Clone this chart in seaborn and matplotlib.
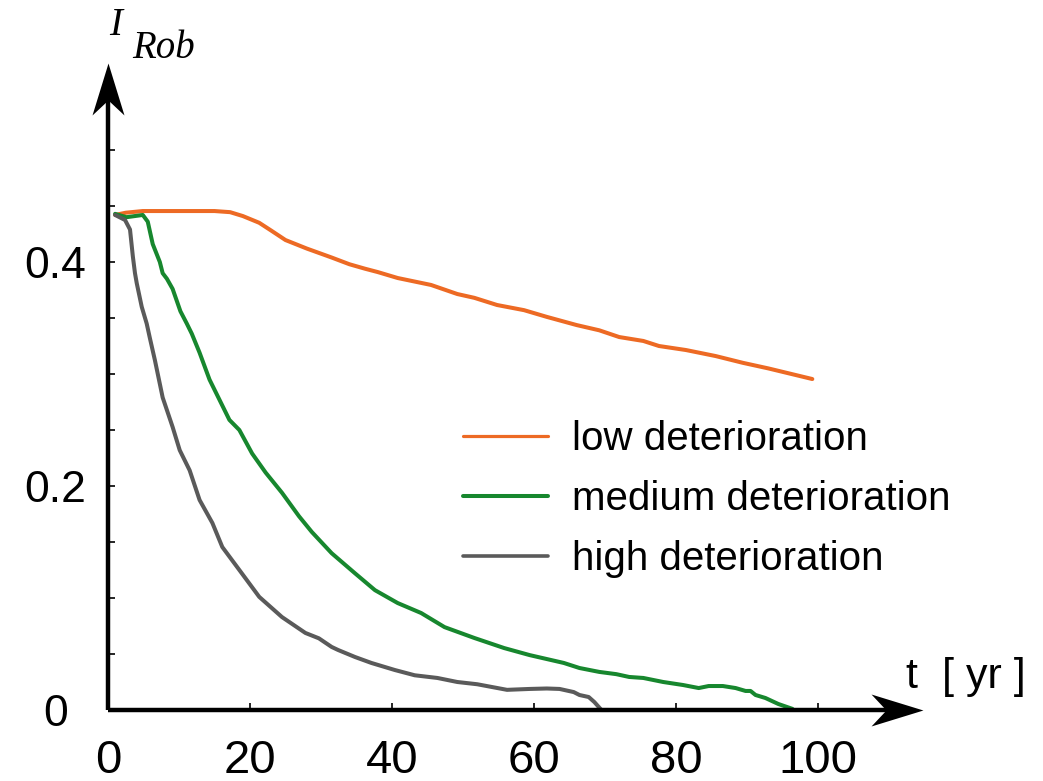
import numpy as np
import pandas as pd
import matplotlib.pyplot as plt
import seaborn as sns
from matplotlib.path import Path
from matplotlib.lines import Line2D

# data
low_t = [1.0, 2.5, 4.9, 10, 15, 17.2, 19, 21.3, 23, 25, 28, 31.5, 34, 36.2, 38, 40.8,
         45.5, 49.2, 51.6, 54.8, 58.6, 61.8, 66, 69.2, 72, 75.4, 77.6, 81.4, 85.6, 89.4, 93, 99.2]
low_i = [0.442, 0.444, 0.4455, 0.4455, 0.4455, 0.4445, 0.441, 0.435, 0.428, 0.4196, 0.412, 0.404,
         0.398, 0.394, 0.391, 0.3857, 0.3795, 0.3714, 0.368, 0.3616, 0.357, 0.351, 0.3437, 0.339,
         0.333, 0.3295, 0.325, 0.3214, 0.316, 0.31, 0.305, 0.2955]

med_t = [1.0, 2.6, 4.9, 5.6, 6.3, 7.3, 7.7, 8.3, 9.1, 10.2, 11.1, 11.8, 12.9, 14.3, 15.7, 17.1,
         18.5, 20.3, 22.2, 24.5, 26.9, 28.7, 31.5, 34.8, 37.6, 40.8, 44.1, 47.4, 51.6, 55.8, 59.4,
         61.8, 64.2, 66.4, 69.2, 71.6, 73.4, 75.4, 78.2, 81.0, 83.2, 84.6, 86.6, 88.4, 89.8, 90.5,
         91.2, 92.6, 94.4, 96.4]
med_i = [0.443, 0.440, 0.442, 0.436, 0.416, 0.400, 0.390, 0.385, 0.376, 0.356, 0.345, 0.336,
         0.319, 0.295, 0.277, 0.259, 0.250, 0.229, 0.212, 0.194, 0.173, 0.159, 0.140, 0.122,
         0.107, 0.0955, 0.0866, 0.074, 0.0643, 0.0553, 0.049, 0.0455, 0.042, 0.0375, 0.034,
         0.032, 0.0295, 0.0286, 0.025, 0.0223, 0.0196, 0.0214, 0.0214, 0.0196, 0.017, 0.017,
         0.0134, 0.0107, 0.0054, 0.001]

high_t = [1.0, 2.4, 3.1, 3.5, 3.8, 4.05, 4.75, 5.45, 5.9, 6.6, 7.7, 9.1, 10.1, 11.5, 12.9, 14.7,
          16.1, 18.5, 21.3, 24.5, 27.8, 29.7, 31.5, 32.4, 34.8, 37.1, 40.4, 43.2, 46.4, 49.2,
          52.0, 56.2, 59.4, 61.8, 63.6, 65.6, 66.4, 67.7, 68.5, 69.5, 70.5]
high_i = [0.442, 0.4375, 0.429, 0.405, 0.390, 0.381, 0.360, 0.345, 0.332, 0.3125, 0.279, 0.2527,
          0.232, 0.214, 0.1875, 0.167, 0.1455, 0.125, 0.101, 0.083, 0.0688, 0.064, 0.0563,
          0.0536, 0.0473, 0.042, 0.0357, 0.031, 0.0286, 0.025, 0.023, 0.018, 0.0188, 0.0192,
          0.0188, 0.016, 0.0134, 0.0116, 0.0071, 0.0, 0.0]

labels = ['low deterioration', 'medium deterioration', 'high deterioration']
colors = ['#ED6A24', '#17872E', '#5A5A5A']
x_ticks = [0, 20, 40, 60, 80, 100]
y_ticks = [0, 0.05, 0.1, 0.15, 0.2, 0.25, 0.3, 0.35, 0.4, 0.45, 0.5]
y_ticklabels = ['0', '', '', '', '0.2', '', '', '', '0.4', '', '']

df = pd.concat([
    pd.DataFrame({'t': low_t, 'I': low_i, 'level': labels[0]}),
    pd.DataFrame({'t': med_t, 'I': med_i, 'level': labels[1]}),
    pd.DataFrame({'t': high_t, 'I': high_i, 'level': labels[2]}),
])

sns.set_style('white')
plt.rcParams['font.family'] = ['Liberation Sans', 'DejaVu Sans']
plt.rcParams['text.color'] = 'black'
plt.rcParams['xtick.color'] = 'black'
plt.rcParams['ytick.color'] = 'black'

W, H = 1043, 781
fig = plt.figure(figsize=(W / 100, H / 100), dpi=100)
ax = fig.add_axes([108 / W, 71 / H, 710 / W, 560 / H])

sns.lineplot(data=df, x='t', y='I', hue='level', palette=colors, sort=False,
             estimator=None, linewidth=2.9, legend=False, ax=ax)
for ln in ax.get_lines():
    ln.set_clip_on(False)

ax.set_xlim(0, 100)
ax.set_ylim(0, 0.5)
for s in ax.spines.values():
    s.set_visible(False)
ax.set_xlabel('')
ax.set_ylabel('')

# axes drawn as arrows
ax.plot([0, 0], [0, 1.09], transform=ax.transAxes, color='k', lw=3.2, clip_on=False,
        solid_capstyle='butt')
ax.plot([0, 1.11], [0, 0], transform=ax.transAxes, color='k', lw=3.2, clip_on=False,
        solid_capstyle='butt')
up = Path([(0, 26), (16, -26), (0, -11), (-16, -26), (0, 26)],
          [Path.MOVETO, Path.LINETO, Path.LINETO, Path.LINETO, Path.CLOSEPOLY])
right = Path([(26, 0), (-26, 16), (-11, 0), (-26, -16), (26, 0)],
             [Path.MOVETO, Path.LINETO, Path.LINETO, Path.LINETO, Path.CLOSEPOLY])
ax.plot([0], [1.109], transform=ax.transAxes, marker=up, ms=37.4, color='k',
        mew=0, clip_on=False)
ax.plot([1.111], [0], transform=ax.transAxes, marker=right, ms=37.4, color='k',
        mew=0, clip_on=False)

ax.set_yticks(y_ticks)
ax.set_yticklabels(y_ticklabels)
ax.set_xticks(x_ticks)
ax.set_xticklabels([str(v) for v in x_ticks])
ax.tick_params(axis='y', direction='in', length=5, width=1.2, color='k',
               labelsize=32, pad=38, left=True, labelcolor='k')
ax.tick_params(axis='x', direction='in', length=5, width=1.2, color='k',
               labelsize=34, pad=21, bottom=True, labelcolor='k')
for lab in ax.get_yticklabels():
    lab.set_horizontalalignment('center')

# axis titles
fig.text(116 / W, 1 - 35 / H, 'I', family='Liberation Serif', style='italic',
         fontsize=28, ha='center', va='baseline')
fig.text(132 / W, 1 - 58 / H, 'Rob', family='Liberation Serif', style='italic',
         fontsize=28, ha='left', va='baseline')
fig.text(966 / W, 1 - 688 / H, 't  [ yr ]', fontsize=31, ha='center', va='baseline')

handles = [Line2D([], [], color=c, lw=lw) for c, lw in zip(colors, [2.3, 2.9, 2.6])]
ax.legend(handles, labels, loc='upper left', bbox_to_anchor=(463 / W, 1 - 420 / H),
          bbox_transform=fig.transFigure, frameon=False, borderpad=0, borderaxespad=0,
          handlelength=2.1, handletextpad=0.6, labelspacing=0.55,
          prop={'size': 29})

fig.savefig('out.png', dpi=100)
